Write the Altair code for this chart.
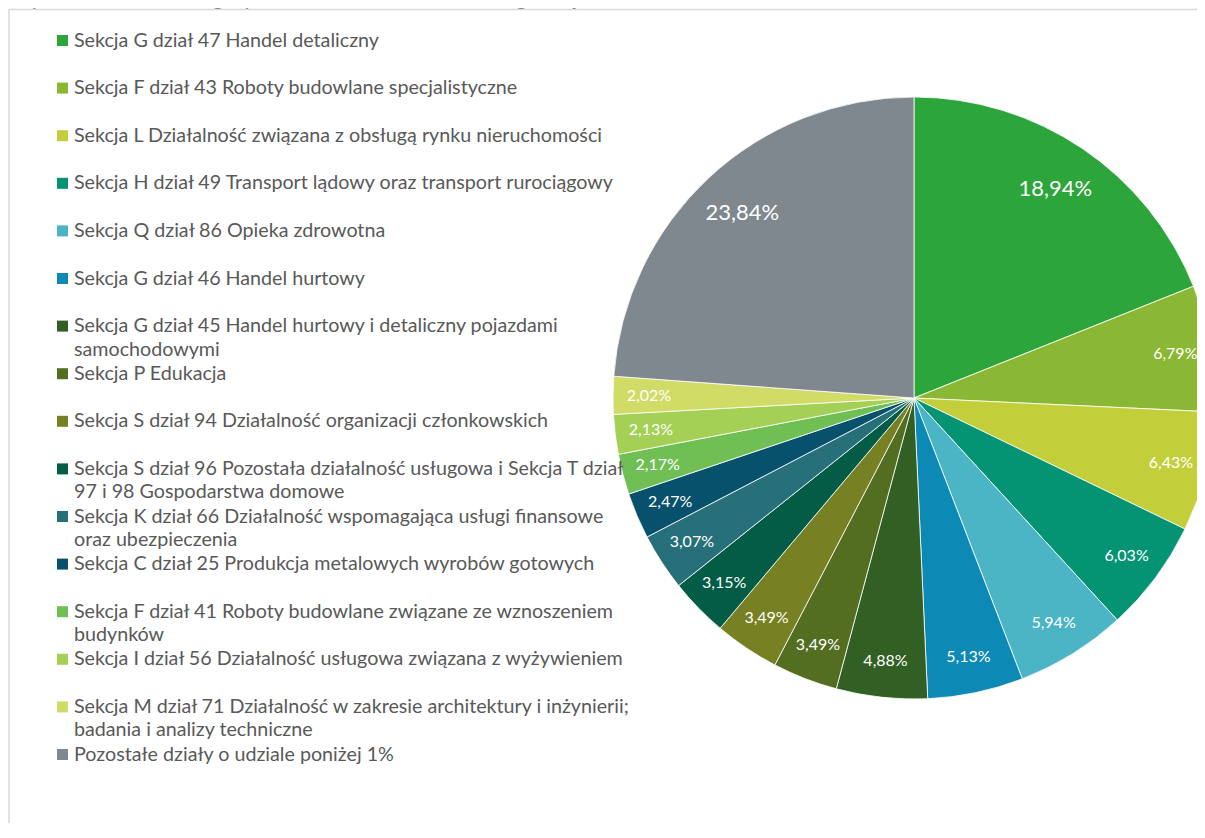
import altair as alt
import pandas as pd

FONT = "Lato"

categories = [
    "Sekcja G dział 47 Handel detaliczny",
    "Sekcja F dział 43 Roboty budowlane specjalistyczne",
    "Sekcja L Działalność związana z obsługą rynku nieruchomości",
    "Sekcja H dział 49 Transport lądowy oraz transport rurociągowy",
    "Sekcja Q dział 86 Opieka zdrowotna",
    "Sekcja G dział 46 Handel hurtowy",
    "Sekcja G dział 45 Handel hurtowy i detaliczny pojazdami\nsamochodowymi",
    "Sekcja P Edukacja",
    "Sekcja S dział 94 Działalność organizacji członkowskich",
    "Sekcja S dział 96 Pozostała działalność usługowa i Sekcja T dział\n97 i 98 Gospodarstwa domowe",
    "Sekcja K dział 66 Działalność wspomagająca usługi finansowe\noraz ubezpieczenia",
    "Sekcja C dział 25 Produkcja metalowych wyrobów gotowych",
    "Sekcja F dział 41 Roboty budowlane związane ze wznoszeniem\nbudynków",
    "Sekcja I dział 56 Działalność usługowa związana z wyżywieniem",
    "Sekcja M dział 71 Działalność w zakresie architektury i inżynierii;\nbadania i analizy techniczne",
    "Pozostałe działy o udziale poniżej 1%",
]

values = [18.94, 6.79, 6.43, 6.03, 5.94, 5.13, 4.88, 3.49, 3.49, 3.15, 3.07, 2.47, 2.17, 2.13, 2.02, 23.84]

colors = [
    "#2ca53a", "#8bb834", "#c3cf3a", "#059473", "#4bb5c5", "#0c89b4",
    "#315f24", "#536d21", "#778022", "#035c45", "#27707a", "#08516d",
    "#6fbf55", "#a4d056", "#d1dc66", "#80888f",
]

title_text = "Wykres 13 Struktura gospodarki w Starachowicach wg sekcji i działów PKD 2007 w 2016 r."

df = pd.DataFrame({"cat": categories, "val": values, "idx": list(range(len(values)))})
df["label"] = df["val"].map(lambda v: f"{v:.2f}".replace(".", ",") + "%")
df["big"] = df["label"].where(df["val"] > 10, "")
df["small"] = df["label"].where(df["val"] <= 10, "")

color_scale = alt.Scale(domain=categories, range=colors)
CX, CY, R = 906, 390, 301

base = alt.Chart(df)

pie = base.mark_arc(radius=R, stroke="#ffffff", strokeWidth=0.8).encode(
    theta=alt.Theta("val:Q", stack=True),
    order=alt.Order("idx:Q"),
    color=alt.Color("cat:N", scale=color_scale, legend=None),
    x=alt.value(CX),
    y=alt.value(CY),
)

lab_big = base.mark_text(radius=252, fontSize=22, color="#ffffff", font=FONT,
                         align="center", baseline="middle").encode(
    theta=alt.Theta("val:Q", stack=True),
    order=alt.Order("idx:Q"),
    detail="cat:N",
    text="big:N",
    x=alt.value(CX),
    y=alt.value(CY),
)

lab_small = base.mark_text(radius=265, fontSize=16, color="#ffffff", font=FONT,
                           align="center", baseline="middle").encode(
    theta=alt.Theta("val:Q", stack=True),
    order=alt.Order("idx:Q"),
    detail="cat:N",
    text="small:N",
    x=alt.value(CX),
    y=alt.value(CY),
)

yscale = alt.Scale(domain=[0, 15], range=[32.5, 746.5])

leg_sq = base.mark_square(size=121, filled=True, opacity=1).encode(
    x=alt.value(54.5),
    y=alt.Y("idx:Q", scale=yscale, axis=None),
    color=alt.Color("cat:N", scale=color_scale, legend=None),
)

leg_tx = base.mark_text(align="left", baseline="alphabetic", dy=6, fontSize=19.7,
                        font=FONT, color="#595959", lineBreak="\n", lineHeight=23.5).encode(
    x=alt.value(66),
    y=alt.Y("idx:Q", scale=yscale, axis=None),
    text="cat:N",
)

one = pd.DataFrame({"k": [0]})
frame_top = alt.Chart(one).mark_rule(color="#d9d9d9", strokeWidth=1.5).encode(
    x=alt.value(1), x2=alt.value(1197), y=alt.value(1.5)
)
frame_left = alt.Chart(one).mark_rule(color="#d9d9d9", strokeWidth=1.5).encode(
    x=alt.value(1), y=alt.value(1.5), y2=alt.value(830)
)
title = alt.Chart(one).mark_text(align="left", baseline="alphabetic", fontSize=23,
                                 fontStyle="italic", font=FONT, color="#8c8c8c").encode(
    x=alt.value(2), y=alt.value(-3.5), text=alt.value(title_text)
)

chart = alt.layer(
    frame_top, frame_left, title, pie, lab_big, lab_small, leg_sq, leg_tx
).properties(
    width=1189, height=815, padding=0, autosize="none"
).configure_view(stroke=None)

chart.save("out.html", embed_options={"renderer": "svg", "actions": False})
